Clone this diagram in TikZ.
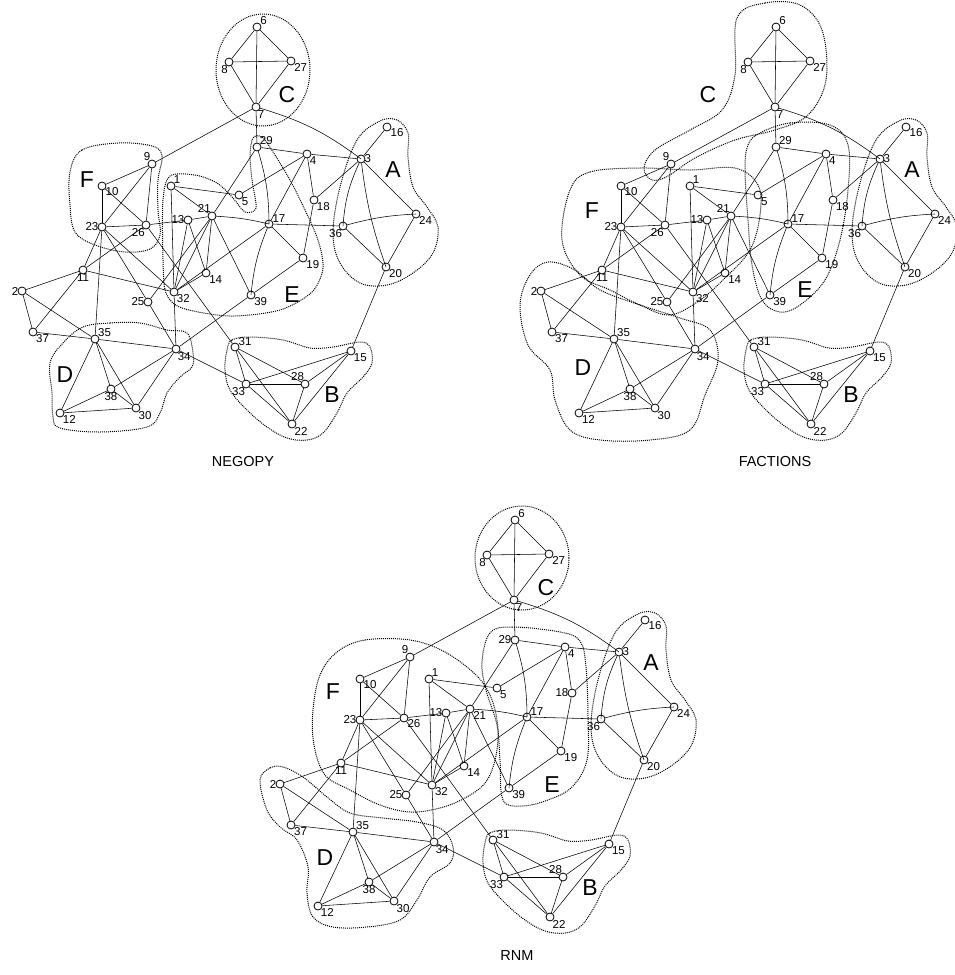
\documentclass[tikz,border=0pt]{standalone}
\usepackage{fontspec}
\setmainfont{Liberation Sans}
\tikzset{
  vtx/.style={circle, draw, fill=white, inner sep=0pt, minimum size=8pt, line width=0.8pt},
  lbl/.style={font=\fontsize{11.5}{12}\selectfont, inner sep=0.5pt},
  hull/.style={densely dotted, line width=1pt},
  grp/.style={font=\fontsize{23}{23}\selectfont},
  title/.style={font=\fontsize{14.5}{15}\selectfont}
}
\newcommand{\vx}[4]{\node[vtx, label={[lbl, label distance=-1.5pt]#4:#1}] (v#1) at (#2,#3) {};}
% label angles of 21, 26, 29, 18
\newcommand{\netnodes}[4]{
\vx{1}{171}{186}{45}
\vx{2}{22}{291}{180}
\vx{3}{361}{159}{0}
\vx{4}{307}{154}{-40}
\vx{5}{239}{195}{-40}
\vx{6}{257}{27}{30}
\vx{7}{256}{107}{-70}
\vx{8}{229}{62}{-100}
\vx{9}{152}{164}{110}
\vx{10}{102}{186}{-10}
\vx{11}{83}{270}{-90}
\vx{12}{60}{413}{-40}
\vx{13}{188}{220}{180}
\vx{14}{206}{273}{-30}
\vx{15}{351}{351}{-40}
\vx{16}{387}{127}{-10}
\vx{17}{269}{224}{20}
\vx{18}{314}{200}{#4}
\vx{19}{303}{258}{-25}
\vx{20}{386}{267}{-35}
\vx{21}{212}{216}{#1}
\vx{22}{292}{424}{-50}
\vx{23}{102}{227}{180}
\vx{24}{416}{214}{-35}
\vx{25}{148}{302}{180}
\vx{26}{146}{225}{#2}
\vx{27}{291}{61}{-30}
\vx{28}{305}{384}{95}
\vx{29}{257}{147}{#3}
\vx{30}{136}{408}{-50}
\vx{31}{235}{347}{10}
\vx{32}{174}{292}{-40}
\vx{33}{246}{384}{-95}
\vx{34}{176}{349}{-70}
\vx{35}{95}{339}{35}
\vx{36}{343}{226}{-95}
\vx{37}{33}{332}{-35}
\vx{38}{111}{389}{-90}
\vx{39}{251}{295}{-30}
}
\newcommand{\netedges}{
\foreach \a/\b in {6/8, 6/27, 6/7, 8/27, 8/7, 27/7, 7/29, 7/9, 3/16, 3/24, 36/20,
  24/20, 20/15, 29/4, 4/3, 3/18, 4/18, 4/5, 4/17, 29/21, 18/19, 17/19, 17/32,
  17/36, 19/39, 21/39, 39/34, 1/5, 1/21, 1/32, 21/13, 21/14, 21/32, 21/25,
  13/26, 13/14, 13/32, 14/32, 9/10, 9/23, 9/26, 10/23, 10/26, 23/26, 23/11,
  23/25, 23/32, 23/35, 26/11, 26/31, 11/2, 11/37, 11/32, 2/37, 2/35, 37/35,
  35/34, 35/12, 35/38, 35/30, 34/25, 34/32, 34/38, 34/30, 34/33, 38/12, 38/30,
  12/30, 31/33, 31/28, 31/22, 33/28, 33/15, 33/22, 28/15, 28/22, 15/22}
  \draw (v\a) -- (v\b);
\draw (v7) to[bend left=10] (v3);
\draw (v3) to[bend right=10] (v36);
\draw (v3) to[bend right=6] (v20);
\draw (v36) to[bend left=6] (v24);
\draw (v29) to[bend left=8] (v17);
\draw (v17) to[bend right=8] (v39);
\draw (v21) to[bend left=5] (v17);
}
\begin{document}
\begin{tikzpicture}[x=1pt, y=-1pt, line width=0.55pt]
\useasboundingbox (0,0) rectangle (955,975);

% NEGOPY
\begin{scope}[name prefix=n-]
\netnodes{100}{-100}{40}{-40}
\netedges
\end{scope}
\draw[hull] (263,70) ellipse [x radius=47, y radius=56];
\draw[hull] plot[smooth cycle, tension=0.6] coordinates {(380,121) (357,140) (340,187) (333,233) (340,263) (360,283) (387,285) (413,273) (433,253) (438,227) (427,207) (413,187) (408,157) (408,133) (397,120)};
\draw[hull] plot[smooth cycle, tension=0.6] coordinates {(70,172) (82,150) (118,143) (152,146) (162,156) (158,180) (158,210) (160,235) (150,249) (125,252) (95,245) (75,232) (70,205)};
\draw[hull] plot[smooth cycle, tension=0.5] coordinates {(170,176) (195,175) (217,183) (233,198) (245,212) (256,208) (252,180) (250,155) (253,138) (262,137) (275,155) (290,180) (305,210) (318,240) (323,268) (312,292) (280,310) (230,316) (182,308) (166,293) (163,260) (163,200)};
\draw[hull] plot[smooth cycle, tension=0.6] coordinates {(83,327) (110,323) (140,323) (167,330) (187,333) (193,353) (192,367) (180,377) (167,393) (160,413) (147,427) (100,432) (60,428) (53,417) (52,393) (50,363) (63,343)};
\draw[hull] plot[smooth cycle, tension=0.6] coordinates {(227,350) (232,340) (250,337) (283,340) (310,348) (333,347) (360,342) (370,347) (372,363) (363,377) (347,393) (337,413) (323,433) (307,440) (287,438) (267,427) (247,410) (230,390) (225,370)};
\node[grp] (nC) at (287,95) {C};
\node[grp] (nA) at (393,170) {A};
\node[grp] (nF) at (87,180) {F};
\node[grp] (nE) at (292,295) {E};
\node[grp] (nD) at (65,375) {D};
\node[grp] (nB) at (332,395) {B};
\node[title] (tn) at (243,462) {NEGOPY};

% FACTIONS
\begin{scope}[shift={(519,0)}, name prefix=f-]
\netnodes{100}{-100}{40}{-40}
\netedges
\end{scope}
\draw[hull] plot[smooth cycle, tension=0.6] coordinates {(737,18) (765,3) (800,5) (822,30) (826,80) (808,115) (775,130) (735,140) (695,158) (668,176) (652,180) (644,168) (655,150) (690,130) (722,110) (735,75)};
\draw[hull] plot[smooth cycle, tension=0.6] coordinates {(899,121) (876,140) (859,187) (852,233) (859,263) (879,283) (906,285) (932,273) (952,253) (957,227) (946,207) (932,187) (927,157) (927,133) (916,120)};
\draw[hull] plot[smooth cycle, tension=0.6] coordinates {(760,133) (790,123) (830,125) (848,145) (848,190) (840,240) (825,280) (800,305) (780,312) (762,300) (752,265) (748,220) (745,170) (748,145)};
\draw[hull] plot[smooth cycle, tension=0.6] coordinates {(570,190) (590,172) (640,168) (690,170) (735,168) (758,185) (760,215) (750,250) (725,278) (700,300) (670,315) (640,305) (610,290) (580,275) (562,240)};
\draw[hull] plot[smooth cycle, tension=0.6] coordinates {(530,275) (548,262) (575,270) (600,290) (640,305) (680,318) (710,330) (718,360) (705,395) (690,430) (650,440) (600,440) (570,430) (555,400) (550,370) (528,345) (520,305)};
\draw[hull] plot[smooth cycle, tension=0.6] coordinates {(746,350) (751,340) (769,337) (802,340) (829,348) (852,347) (879,342) (889,347) (891,363) (882,377) (866,393) (856,413) (842,433) (826,440) (806,438) (786,427) (766,410) (749,390) (744,370)};
\node[grp] (fC) at (708,95) {C};
\node[grp] (fA) at (912,170) {A};
\node[grp] (fF) at (592,211) {F};
\node[grp] (fE) at (805,290) {E};
\node[grp] (fD) at (583,368) {D};
\node[grp] (fB) at (851,395) {B};
\node[title] (tf) at (775,462) {FACTIONS};

% RNM
\begin{scope}[shift={(258,493)}, name prefix=r-]
\netnodes{-30}{-20}{180}{180}
\netedges
\end{scope}
\draw[hull] (522,558) ellipse [x radius=47, y radius=52];
\draw[hull] plot[smooth cycle, tension=0.6] coordinates {(638,614) (615,633) (598,680) (591,726) (598,756) (618,776) (645,778) (671,766) (691,746) (696,720) (685,700) (671,680) (666,650) (666,626) (655,613)};
\draw[hull] plot[smooth cycle, tension=0.6] coordinates {(337,652) (365,640) (410,640) (445,652) (477,676) (492,700) (498,730) (495,760) (485,783) (465,798) (440,808) (410,812) (380,805) (350,790) (325,775) (314,745) (313,710) (320,675)};
\draw[hull] plot[smooth cycle, tension=0.6] coordinates {(490,633) (512,627) (560,632) (580,641) (586,667) (588,717) (587,760) (572,787) (548,800) (522,806) (503,800) (500,760) (497,725) (486,690) (482,662)};
\draw[hull] plot[smooth cycle, tension=0.6] coordinates {(260,780) (270,768) (283,767) (303,777) (327,797) (350,813) (383,818) (417,822) (443,830) (453,847) (450,863) (430,877) (417,900) (400,920) (367,927) (333,927) (313,917) (307,893) (308,867) (297,840) (280,827) (267,810)};
\draw[hull] plot[smooth cycle, tension=0.6] coordinates {(485,843) (490,833) (508,830) (541,833) (568,841) (591,840) (618,835) (628,840) (630,856) (621,870) (605,886) (595,906) (581,926) (565,933) (545,931) (525,920) (505,903) (488,883) (483,863)};
\node[grp] (rC) at (546,588) {C};
\node[grp] (rA) at (651,663) {A};
\node[grp] (rF) at (333,692) {F};
\node[grp] (rE) at (552,785) {E};
\node[grp] (rD) at (325,858) {D};
\node[grp] (rB) at (590,888) {B};
\node[title] (tr) at (517,955) {RNM};
\end{tikzpicture}
\end{document}
